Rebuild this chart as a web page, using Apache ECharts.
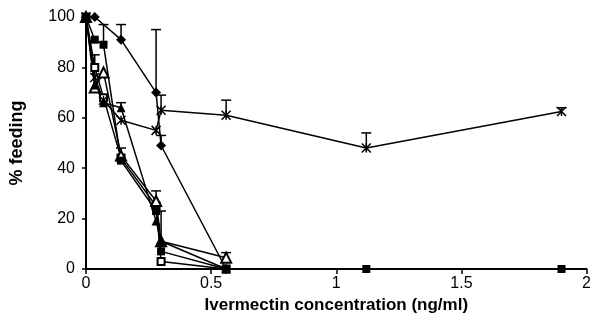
<!DOCTYPE html>
<html>
<head>
<meta charset="utf-8">
<script src="https://cdn.jsdelivr.net/npm/echarts@6/dist/echarts.min.js"></script>
<style>
  html, body { margin: 0; padding: 0; background: #fff; }
  #chart { width: 594px; height: 331px; }
</style>
</head>
<body>
<div id="chart"></div>
<script>
// x positions (ng/ml)
const concAll = [0, 0.035, 0.07, 0.14, 0.28, 0.3, 0.56, 1.12, 1.9];
const concShort = [0, 0.035, 0.07, 0.14, 0.28, 0.3, 0.56];
const concDiamond = [0, 0.035, 0.14, 0.28, 0.3, 0.56];

// % feeding values
const diamondVals = [100, 100, 91, 70, 49, 0];
const squareVals = [100, 91, 89, 43, 23, 7, 0, 0, 0];
const triangleVals = [100, 73, 66, 64, 19, 11, 0];
const openTriVals = [100, 72, 78, 45, 27, 11, 4.5];
const openSqVals = [100, 80, 68, 44, 25, 3, 0];
const starVals = [100, 76, 67, 59, 55, 63, 61, 48, 62.5];

// error bar tops [x, y, top]
const errorBars = [
  [0.14, 91, 97], [0.28, 70, 95], [0.3, 49, 53],
  [0.07, 89, 97], [0.14, 43, 48],
  [0.14, 64, 66], [0.3, 11, 23],
  [0.035, 73, 85], [0.28, 27, 31], [0.56, 4.5, 6.5],
  [0.3, 63, 69], [0.56, 61, 67], [1.12, 48, 54], [1.9, 62.5, 64]
];

const xTicks = ['0', '0.5', '1', '1.5', '2'];

const pair = (xs, ys) => xs.map((x, i) => [x, ys[i]]);

const starPath = 'path://M0,0L10,10M10,0L0,10M5,0L5,10';

function lineSeries(name, data, symbol, opts) {
  return Object.assign({
    name: name,
    type: 'line',
    data: data,
    symbol: symbol,
    symbolSize: 8,
    lineStyle: { color: '#000', width: 1.5 },
    itemStyle: { color: '#000' },
    z: 3
  }, opts || {});
}

const chart = echarts.init(document.getElementById('chart'));
chart.setOption({
  animation: false,
  backgroundColor: '#fff',
  grid: { left: 84, right: 4, top: 17, bottom: 62 },
  xAxis: {
    type: 'value',
    min: 0, max: 2, interval: 0.5,
    name: 'Ivermectin concentration (ng/ml)',
    nameLocation: 'middle',
    nameGap: 27,
    nameTextStyle: { fontFamily: 'Liberation Sans', fontWeight: 'bold', fontSize: 17, color: '#000' },
    axisLine: { lineStyle: { color: '#000', width: 2 } },
    axisTick: { length: 5, lineStyle: { color: '#000', width: 1.5 } },
    axisLabel: {
      fontFamily: 'Liberation Sans', fontSize: 16, color: '#000', margin: 7,
      formatter: (v) => xTicks[Math.round(v / 0.5)]
    },
    splitLine: { show: false }
  },
  yAxis: {
    type: 'value',
    min: 0, max: 100, interval: 20,
    name: '% feeding',
    nameLocation: 'middle',
    nameRotate: 90,
    nameGap: 60,
    nameTextStyle: { fontFamily: 'Liberation Sans', fontWeight: 'bold', fontSize: 18, color: '#000' },
    axisLine: { show: true, lineStyle: { color: '#000', width: 2 } },
    axisTick: { show: true, length: 4, lineStyle: { color: '#000', width: 1.5 } },
    axisLabel: { fontFamily: 'Liberation Sans', fontSize: 16, color: '#000', margin: 11 },
    splitLine: { show: false }
  },
  series: [
    {
      type: 'custom',
      data: errorBars,
      z: 2,
      renderItem: function (params, api) {
        const base = api.coord([api.value(0), api.value(1)]);
        const top = api.coord([api.value(0), api.value(2)]);
        const cap = 5;
        const st = { stroke: '#000', lineWidth: 1.5 };
        return {
          type: 'group',
          children: [
            { type: 'line', shape: { x1: base[0], y1: base[1], x2: top[0], y2: top[1] }, style: st },
            { type: 'line', shape: { x1: top[0] - cap, y1: top[1], x2: top[0] + cap, y2: top[1] }, style: st }
          ]
        };
      }
    },
    // open markers first so filled ones sit on top
    lineSeries('openSquare', pair(concShort, openSqVals), 'emptyRect', {
      symbolSize: 7, itemStyle: { color: '#000', borderWidth: 1.5 }
    }),
    lineSeries('openTriangle', pair(concShort, openTriVals), 'emptyTriangle', {
      symbolSize: 10, itemStyle: { color: '#000', borderWidth: 1.5 }
    }),
    lineSeries('star', pair(concAll, starVals), starPath, {
      symbolSize: 9, itemStyle: { color: 'none', borderColor: '#000', borderWidth: 1.5 }
    }),
    lineSeries('triangle', pair(concShort, triangleVals), 'triangle', { symbolSize: 9 }),
    lineSeries('diamond', pair(concDiamond, diamondVals), 'diamond', { symbolSize: 10 }),
    lineSeries('square', pair(concAll, squareVals), 'rect')
  ]
});
</script>
</body>
</html>
